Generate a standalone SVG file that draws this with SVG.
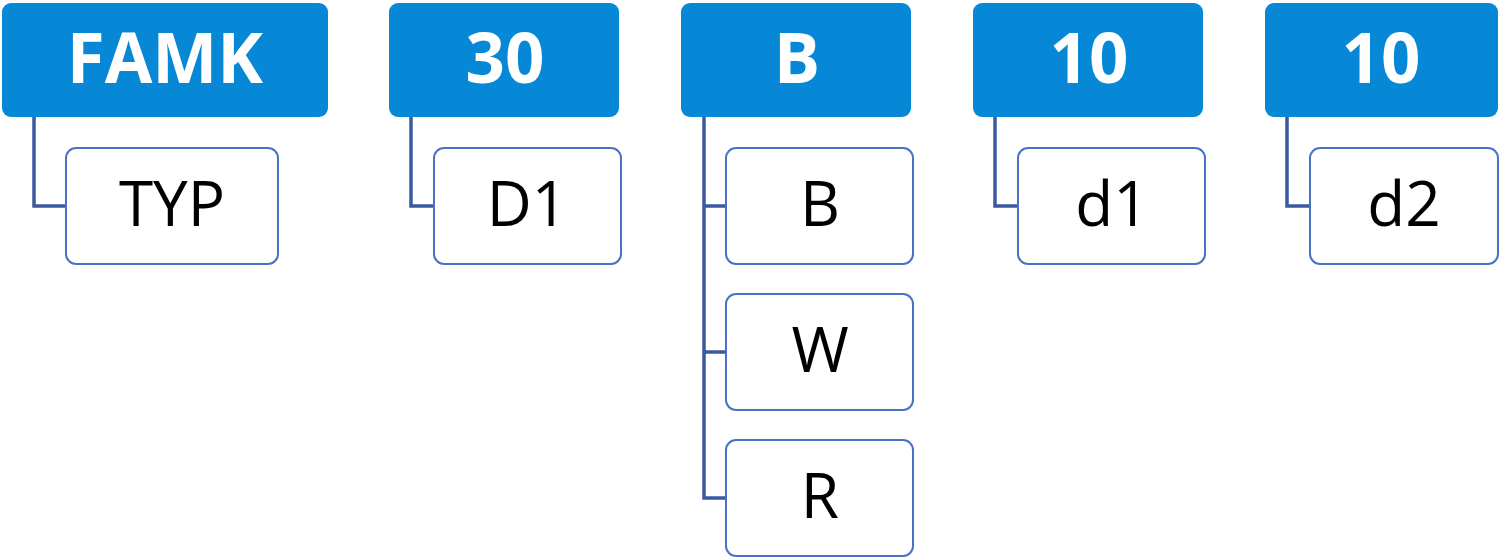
<svg xmlns="http://www.w3.org/2000/svg" width="1502" height="560" viewBox="0 0 1502 560">
<style>
.hdr{fill:#0788D6;}
.hdr-t{font-family:"Open Sans","DejaVu Sans",sans-serif;font-weight:bold;font-size:69px;fill:#ffffff;text-anchor:middle;}
.ch{fill:#ffffff;stroke:#4A72C4;stroke-width:2;}
.ch-t{font-family:"Open Sans","DejaVu Sans",sans-serif;font-size:62px;fill:#000000;text-anchor:middle;}
.conn{fill:none;stroke:#3A5AA0;stroke-width:3.5;}
</style>
<rect width="1502" height="560" fill="#ffffff"/>
<g id="connectors">
<path class="conn" d="M34 117 V206 H66"/>
<path class="conn" d="M411 117 V206 H434"/>
<path class="conn" d="M704 117 V498 H726 M704 206 H726 M704 352 H726"/>
<path class="conn" d="M995 117 V206 H1018"/>
<path class="conn" d="M1287 117 V206 H1310"/>
</g>
<g id="famk"><rect class="hdr" x="2" y="3" width="326" height="114" rx="9"/><text class="hdr-t" x="165" y="83">FAMK</text></g>
<g id="h30"><rect class="hdr" x="389" y="3" width="230" height="114" rx="9"/><text class="hdr-t" x="505" y="83">30</text></g>
<g id="hB"><rect class="hdr" x="681" y="3" width="230" height="114" rx="9"/><text class="hdr-t" x="797" y="83">B</text></g>
<g id="h10a"><rect class="hdr" x="973" y="3" width="230" height="114" rx="9"/><text class="hdr-t" x="1089" y="83">10</text></g>
<g id="h10b"><rect class="hdr" x="1265" y="3" width="233" height="114" rx="9"/><text class="hdr-t" x="1381" y="83">10</text></g>
<g id="typ"><rect class="ch" x="66" y="148" width="212" height="116" rx="10"/><text class="ch-t" x="172" y="226">TYP</text></g>
<g id="d1u"><rect class="ch" x="434" y="148" width="187" height="116" rx="10"/><text class="ch-t" x="527" y="226">D1</text></g>
<g id="cB"><rect class="ch" x="726" y="148" width="187" height="116" rx="10"/><text class="ch-t" x="820" y="226">B</text></g>
<g id="cW"><rect class="ch" x="726" y="294" width="187" height="116" rx="10"/><text class="ch-t" x="820" y="372">W</text></g>
<g id="cR"><rect class="ch" x="726" y="440" width="187" height="116" rx="10"/><text class="ch-t" x="820" y="518">R</text></g>
<g id="d1"><rect class="ch" x="1018" y="148" width="187" height="116" rx="10"/><text class="ch-t" x="1112" y="226">d1</text></g>
<g id="d2"><rect class="ch" x="1310" y="148" width="188" height="116" rx="10"/><text class="ch-t" x="1404" y="226">d2</text></g>
</svg>
